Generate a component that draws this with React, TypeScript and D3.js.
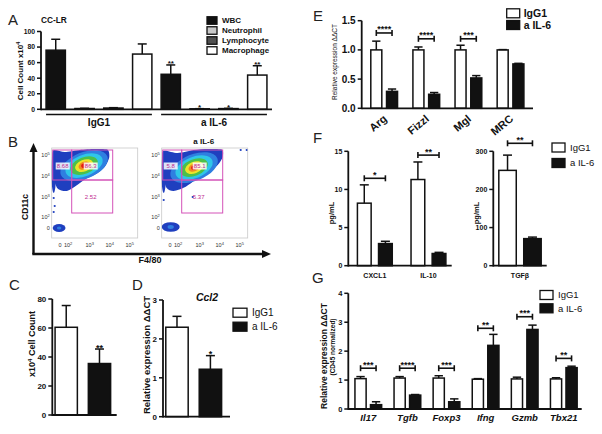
import React from "react";
import * as d3 from "d3";

const FONT = "'Liberation Sans', Arial, Helvetica, sans-serif";
const BLACK = "#111111";
const WHITE = "#ffffff";

// ---------------- Panel A ----------------
const aGroups = ["IgG1", "a IL-6"];
const aCells = ["WBC", "Neutrophil", "Lymphocyte", "Macrophage"];
const aCellFills = ["#111111", "#c8c8c8", "#505050", "#ffffff"];
const aIgG1Means = [76, 1.0, 1.6, 71];
const aIgG1Errs = [14, 0.3, 0.5, 13];
const aAIL6Means = [45, 0.6, 0.9, 44];
const aAIL6Errs = [12, 0.2, 0.3, 12];
const aAIL6Stars = ["**", "*", "*", "**"];
const aTicks = [0, 20, 40, 60, 80, 100];

// ---------------- Panel C ----------------
const cMeans = [60.5, 35.5];
const cErrs = [15, 10];
const cStars = ["", "**"];
const cTicks = [0, 20, 40, 60, 80];

// ---------------- Panel D ----------------
const dMeans = [2.3, 1.22];
const dErrs = [0.28, 0.35];
const dStars = ["", "*"];
const dTicks = [0, 1, 2, 3];

// ---------------- Panel E ----------------
const eGenes = ["Arg", "Fizzl", "Mgl", "MRC"];
const eIgG1Means = [1, 1, 1, 1];
const eIgG1Errs = [0.15, 0.05, 0.08, 0.005];
const eAIL6Means = [0.29, 0.24, 0.52, 0.76];
const eAIL6Errs = [0.04, 0.03, 0.04, 0.01];
const eSig = ["****", "****", "***", ""];
const eSigY = [1.29, 1.19, 1.19, 0];
const eTicks = [0, 0.5, 1, 1.5];

// ---------------- Panel F ----------------
const fCyto = ["CXCL1", "IL-10"];
const fIgG1Means = [8.2, 11.3];
const fIgG1Errs = [2.4, 2.3];
const fAIL6Means = [2.9, 1.6];
const fAIL6Errs = [0.3, 0.15];
const fSig = ["*", "**"];
const fSigY = [11.46, 14.5];
const fTicks = [0, 5, 10, 15];
const fTgf = ["TGFβ"];
const fTgfIgG1Means = [250];
const fTgfIgG1Errs = [40];
const fTgfAIL6Means = [71];
const fTgfAIL6Errs = [4];
const fTgfSig = ["**"];
const fTgfSigY = [321];
const fTgfTicks = [0, 100, 200, 300];

// ---------------- Panel G ----------------
const gGenes = ["Il17", "Tgfb", "Foxp3", "Ifng", "Gzmb", "Tbx21"];
const gIgG1Means = [1.05, 1.07, 1.07, 1.03, 1.04, 1.04];
const gIgG1Errs = [0.07, 0.05, 0.08, 0.02, 0.06, 0.04];
const gAIL6Means = [0.15, 0.48, 0.25, 2.2, 2.75, 1.43];
const gAIL6Errs = [0.1, 0.02, 0.1, 0.38, 0.15, 0.05];
const gSig = ["***", "****", "***", "**", "***", "**"];
const gSigY = [1.41, 1.41, 1.41, 2.79, 3.19, 1.75];
const gTicks = [0, 1, 2, 3, 4];

// ---------------- Panel B (flow) ----------------
const flowXTicks = [
  { v: 0.42, base: "0", exp: "" },
  { v: 0.82, base: "10", exp: "2" },
  { v: 1.9, base: "10", exp: "3" },
  { v: 2.9, base: "10", exp: "4" },
  { v: 3.9, base: "10", exp: "5" },
];
const flowYTicks = [
  { v: 0.5, base: "0", exp: "" },
  { v: 1.05, base: "10", exp: "2" },
  { v: 2.05, base: "10", exp: "3" },
  { v: 3.1, base: "10", exp: "4" },
  { v: 4.15, base: "10", exp: "5" },
];
const flowGates = [
  { x0: 0.05, x1: 1.0, y0: 2.9, y1: 4.4 },
  { x0: 1.0, x1: 3.05, y0: 2.9, y1: 4.4 },
  { x0: 1.0, x1: 3.05, y0: 1.25, y1: 2.9 },
];
const flowLevelColors = ["#2f7fe0", "#2fc6e8", "#4cc04a", "#ece42a", "#f08a22", "#e31a12"];
const flowLevelRx = [1.25, 0.98, 0.72, 0.47, 0.29, 0.15];
const flowLevelRy = [0.66, 0.53, 0.41, 0.29, 0.19, 0.11];
const flowLeftOutline: [number, number][] = [
  [0.07, 4.38], [0.65, 4.3], [1.4, 4.4], [2.15, 4.45], [2.78, 4.42], [2.88, 4.05],
  [2.68, 3.6], [2.26, 3.22], [1.7, 2.95], [1.2, 2.6], [0.75, 2.35], [0.32, 2.45],
  [0.12, 2.9], [0.07, 3.65],
];
const flowRightOutline: [number, number][] = [
  [0.07, 4.35], [0.8, 4.25], [1.6, 4.4], [2.3, 4.45], [3.0, 4.42], [3.05, 4.05],
  [2.8, 3.65], [2.35, 3.28], [1.75, 2.95], [1.18, 2.55], [0.6, 2.35], [0.25, 2.5],
  [0.1, 3.0], [0.07, 3.7],
];
const flowLeftCenter: [number, number] = [1.62, 3.62];
const flowRightCenter: [number, number] = [1.62, 3.52];
const flowLeftLow = [0.37, 0.5, 0.32, 0.2];
const flowRightLow = [0.45, 0.55, 0.45, 0.24];
const flowLeftLabels = ["8.68", "86.3", "2.52"];
const flowRightLabels = ["5.8", "85.1", "5.37"];
const flowLeftLabelPos: [number, number][] = [[0.55, 3.6], [1.95, 3.6], [1.95, 2.05]];
const flowRightLabelPos: [number, number][] = [[0.45, 3.6], [1.9, 3.6], [1.85, 2.05]];
const flowLeftDots: [number, number][] = [[0.1, 2.0], [0.15, 1.6], [0.1, 1.3]];
const flowRightDots: [number, number][] = [[1.55, 2.05], [3.95, 4.4], [4.25, 4.4], [0.1, 1.9]];

interface Ser { name: string; means: number[]; errs: number[]; fill: string; }

interface BarProps {
  cats: string[];
  series: Ser[];
  axisX: number; axisEnd: number; yBottom: number; yTop: number; yMax: number;
  ticks: number[]; fmt?: (v: number) => string; tickFs: number;
  band: [number, number]; pInner: number; pOuter: number; innerPad: number;
  stars?: string[][]; starFs?: number;
  sig?: string[]; sigY?: number[];
  labelMode?: "none" | "plain" | "italic" | "rotated"; labelY?: number; labelFs?: number;
}

function BarChart(p: BarProps) {
  const y = d3.scaleLinear().domain([0, p.yMax]).range([p.yBottom, p.yTop]);
  const x0 = d3.scaleBand<string>().domain(p.cats).range(p.band).paddingInner(p.pInner).paddingOuter(p.pOuter);
  const x1 = d3.scaleBand<string>().domain(p.series.map((s) => s.name)).range([0, x0.bandwidth()]).paddingInner(p.innerPad);
  const bw = x1.bandwidth();
  const capW = Math.min(bw * 0.75, 9);
  const fmt = p.fmt || ((v: number) => String(v));
  const sw = 1.5;
  const center = (c: string, s: string) => (x0(c) as number) + (x1(s) as number) + bw / 2;
  return (
    <g fontFamily={FONT}>
      {p.cats.map((c, ci) =>
        p.series.map((s, si) => {
          const bx = (x0(c) as number) + (x1(s.name) as number);
          const top = y(s.means[ci]);
          const et = y(s.means[ci] + s.errs[ci]);
          const cx = bx + bw / 2;
          const star = p.stars ? p.stars[si][ci] : "";
          return (
            <g key={`${ci}-${si}`}>
              <rect x={bx} y={top} width={bw} height={p.yBottom - top} fill={s.fill} stroke={BLACK} strokeWidth={sw} />
              {s.errs[ci] > 0 && <line x1={cx} x2={cx} y1={top} y2={et} stroke={BLACK} strokeWidth={sw} />}
              {s.errs[ci] > 0 && <line x1={cx - capW / 2} x2={cx + capW / 2} y1={et} y2={et} stroke={BLACK} strokeWidth={sw} />}
              {star && (
                <text x={cx} y={et + 1.5} textAnchor="middle" fontSize={p.starFs || 9} fontWeight="bold" fill={BLACK}>{star}</text>
              )}
            </g>
          );
        })
      )}
      {p.sig && p.cats.map((c, ci) => {
        if (!p.sig![ci]) return null;
        const ya = y(p.sigY![ci]);
        const xa = center(c, p.series[0].name);
        const xb = center(c, p.series[1].name);
        return (
          <g key={`sig${ci}`} stroke={BLACK} strokeWidth={1.6}>
            <line x1={xa} x2={xb} y1={ya} y2={ya} />
            <line x1={xa} x2={xa} y1={ya - 3} y2={ya + 3} />
            <line x1={xb} x2={xb} y1={ya - 3} y2={ya + 3} />
            <text x={(xa + xb) / 2} y={ya - 0.5} textAnchor="middle" fontSize={9} fontWeight="bold" fill={BLACK} stroke="none">{p.sig![ci]}</text>
          </g>
        );
      })}
      <line x1={p.axisX} x2={p.axisX} y1={p.yBottom + 0.9} y2={p.yTop} stroke={BLACK} strokeWidth={1.8} />
      <line x1={p.axisX} x2={p.axisEnd} y1={p.yBottom} y2={p.yBottom} stroke={BLACK} strokeWidth={1.8} />
      {p.ticks.map((t) => (
        <g key={t}>
          <line x1={p.axisX - 4} x2={p.axisX} y1={y(t)} y2={y(t)} stroke={BLACK} strokeWidth={1.5} />
          <text x={p.axisX - 6} y={y(t)} dy="0.35em" textAnchor="end" fontSize={p.tickFs} fontWeight="bold" fill={BLACK}>{fmt(t)}</text>
        </g>
      ))}
      {p.labelMode && p.labelMode !== "none" && p.cats.map((c) => {
        const cx = (x0(c) as number) + x0.bandwidth() / 2;
        if (p.labelMode === "rotated") {
          return (
            <text key={c} transform={`translate(${cx + 3.5},${p.labelY}) rotate(-40)`} textAnchor="end" fontSize={p.labelFs} fontWeight="bold" fill={BLACK}>{c}</text>
          );
        }
        return (
          <text key={c} x={cx} y={p.labelY} textAnchor="middle" fontSize={p.labelFs} fontWeight="bold" fontStyle={p.labelMode === "italic" ? "italic" : "normal"} fill={BLACK}>{c}</text>
        );
      })}
    </g>
  );
}

function Legend(props: { x: number; y0: number; dy: number; names: string[]; fills: string[]; fs: number; bold: boolean; w: number; h: number; gap: number }) {
  const { x, y0, dy, names, fills, fs, bold, w, h, gap } = props;
  return (
    <g fontFamily={FONT}>
      {names.map((n, i) => (
        <g key={n}>
          <rect x={x} y={y0 + i * dy - h / 2} width={w} height={h} fill={fills[i]} stroke={BLACK} strokeWidth={1.3} />
          <text x={x + w + gap} y={y0 + i * dy} dy="0.35em" fontSize={fs} fontWeight={bold ? "bold" : "normal"} fill={BLACK}>{n}</text>
        </g>
      ))}
    </g>
  );
}

interface FlowProps {
  left: number; id: string;
  outline: [number, number][]; center: [number, number]; low: number[];
  labels: string[]; labelPos: [number, number][]; dots: [number, number][]; title?: string;
}

const FLOW_XMAX = 4.3;
const FLOW_YMAX = 4.5;
const FLOW_BOTTOM = 238;
const FLOW_UNIT = 20;

function FlowPlot(p: FlowProps) {
  const x = d3.scaleLinear().domain([0, FLOW_XMAX]).range([p.left, p.left + FLOW_XMAX * FLOW_UNIT]);
  const y = d3.scaleLinear().domain([0, FLOW_YMAX]).range([FLOW_BOTTOM, FLOW_BOTTOM - FLOW_YMAX * FLOW_UNIT]);
  const line = d3.line<[number, number]>().x((d) => x(d[0])).y((d) => y(d[1])).curve(d3.curveCardinalClosed.tension(0.2));
  const cx = x(p.center[0]);
  const cy = y(p.center[1]);
  const ux = (v: number) => x(v) - x(0);
  const uy = (v: number) => y(0) - y(v);
  return (
    <g fontFamily={FONT}>
      <defs>
        <clipPath id={p.id}>
          <rect x={x(0)} y={y(FLOW_YMAX)} width={ux(FLOW_XMAX)} height={uy(FLOW_YMAX)} />
        </clipPath>
      </defs>
      <rect x={x(0)} y={y(FLOW_YMAX)} width={ux(FLOW_XMAX)} height={uy(FLOW_YMAX)} fill={WHITE} stroke="#c8c8c8" strokeWidth={0.8} />
      <g clipPath={`url(#${p.id})`}>
        <path d={line(p.outline) || ""} fill="#1f3fbf" />
        <ellipse cx={x(0.1)} cy={y(3.3)} rx={ux(0.12)} ry={uy(1.05)} fill="#1f3fbf" />
        {flowLevelColors.map((c, i) => (
          <ellipse key={c} cx={cx} cy={cy} rx={ux(flowLevelRx[i])} ry={uy(flowLevelRy[i])} fill={c} transform={`rotate(-22 ${cx} ${cy})`} />
        ))}
        <ellipse cx={x(p.low[0])} cy={y(p.low[1])} rx={ux(p.low[2])} ry={uy(p.low[3])} fill="#1f3fbf" />
        <ellipse cx={x(p.low[0])} cy={y(p.low[1])} rx={ux(p.low[2] * 0.35)} ry={uy(p.low[3] * 0.4)} fill="#2f7fe0" />
        {p.dots.map((d, i) => (
          <circle key={i} cx={x(d[0])} cy={y(d[1])} r={1.1} fill="#1f3fbf" />
        ))}
        {flowGates.map((g, i) => (
          <rect key={i} x={x(g.x0)} y={y(g.y1)} width={x(g.x1) - x(g.x0)} height={y(g.y0) - y(g.y1)} fill="none" stroke="#d452b8" strokeWidth={1} />
        ))}
      </g>
      {p.labels.map((l, i) => {
        const lx = x(p.labelPos[i][0]);
        const ly = y(p.labelPos[i][1]);
        return (
          <g key={l}>
            {i < 2 && <rect x={lx - 7} y={ly - 3.5} width={14} height={7} fill={WHITE} opacity={0.85} />}
            <text x={lx} y={ly} dy="0.35em" textAnchor="middle" fontSize={6} fill="#c02a90">{l}</text>
          </g>
        );
      })}
      {flowXTicks.map((t) => (
        <text key={t.v} x={x(t.v)} y={247} textAnchor="middle" fontSize={5.5} fill="#333">
          {t.base}
          {t.exp && <tspan dy={-2.2} fontSize={4}>{t.exp}</tspan>}
        </text>
      ))}
      {flowYTicks.map((t) => (
        <text key={t.v} x={x(0) - 2} y={y(t.v)} dy="0.35em" textAnchor="end" fontSize={5.5} fill="#333">
          {t.base}
          {t.exp && <tspan dy={-2.2} fontSize={4}>{t.exp}</tspan>}
        </text>
      ))}
      {p.title && (
        <text x={x(2.1)} y={144} textAnchor="middle" fontSize={8} fontWeight="bold" fill={BLACK}>{p.title}</text>
      )}
    </g>
  );
}

const serNames = ["IgG1", "a IL-6"];

export default function App() {
  const aSeries: Ser[] = aCells.map((c, i) => ({
    name: c,
    means: [aIgG1Means[i], aAIL6Means[i]],
    errs: [aIgG1Errs[i], aAIL6Errs[i]],
    fill: aCellFills[i],
  }));
  const aStars = aCells.map((_, i) => ["", aAIL6Stars[i]]);
  const aX0 = d3.scaleBand<string>().domain(aGroups).range([41, 272]).paddingInner(0.08).paddingOuter(0.044);

  const cSeries: Ser[] = serNames.map((n, i) => ({ name: n, means: [cMeans[i]], errs: [cErrs[i]], fill: i === 0 ? WHITE : BLACK }));
  const dSeries: Ser[] = serNames.map((n, i) => ({ name: n, means: [dMeans[i]], errs: [dErrs[i]], fill: i === 0 ? WHITE : BLACK }));
  const eSeries: Ser[] = [
    { name: serNames[0], means: eIgG1Means, errs: eIgG1Errs, fill: WHITE },
    { name: serNames[1], means: eAIL6Means, errs: eAIL6Errs, fill: BLACK },
  ];
  const fSeries: Ser[] = [
    { name: serNames[0], means: fIgG1Means, errs: fIgG1Errs, fill: WHITE },
    { name: serNames[1], means: fAIL6Means, errs: fAIL6Errs, fill: BLACK },
  ];
  const fTgfSeries: Ser[] = [
    { name: serNames[0], means: fTgfIgG1Means, errs: fTgfIgG1Errs, fill: WHITE },
    { name: serNames[1], means: fTgfAIL6Means, errs: fTgfAIL6Errs, fill: BLACK },
  ];
  const gSeries: Ser[] = [
    { name: serNames[0], means: gIgG1Means, errs: gIgG1Errs, fill: WHITE },
    { name: serNames[1], means: gAIL6Means, errs: gAIL6Errs, fill: BLACK },
  ];

  return (
    <div style={{ position: "fixed", left: 0, top: 0, width: 602, height: 434, background: WHITE }}>
      <svg width={602} height={434} viewBox="0 0 602 434" style={{ display: "block" }} fontFamily={FONT}>
        <rect width={602} height={434} fill={WHITE} />

        {/* Panel letters */}
        <g fontSize={15} fill="#222">
          <text x={8} y={25}>A</text>
          <text x={8} y={147}>B</text>
          <text x={9} y={290}>C</text>
          <text x={132} y={290}>D</text>
          <text x={313} y={21}>E</text>
          <text x={313} y={143}>F</text>
          <text x={312} y={283}>G</text>
        </g>

        {/* Panel A */}
        <text x={41} y={22.5} fontSize={8.3} fontWeight="bold" fill={BLACK}>CC-LR</text>
        <text transform="translate(23,71) rotate(-90)" textAnchor="middle" fontSize={8} fontWeight="bold" fill={BLACK}>
          Cell Count x10<tspan dy={-3} fontSize={5.5}>4</tspan>
        </text>
        <BarChart
          cats={aGroups} series={aSeries}
          axisX={41} axisEnd={272} yBottom={109.3} yTop={31.5} yMax={100}
          ticks={aTicks} tickFs={6.8}
          band={[41, 272]} pInner={0.08} pOuter={0.044} innerPad={0.33}
          stars={aStars} starFs={8}
        />
        {aGroups.map((g) => (
          <g key={g}>
            <line x1={aX0(g) as number} x2={(aX0(g) as number) + aX0.bandwidth()} y1={114.5} y2={114.5} stroke={BLACK} strokeWidth={1.5} />
            <text x={(aX0(g) as number) + aX0.bandwidth() / 2} y={125.5} textAnchor="middle" fontSize={10} fontWeight="bold" fill={BLACK}>{g}</text>
          </g>
        ))}
        <Legend x={207} y0={20.5} dy={10} names={aCells} fills={aCellFills} fs={8} bold={true} w={10} h={7.5} gap={5} />

        {/* Panel B */}
        <FlowPlot left={51.7} id="flowL" outline={flowLeftOutline} center={flowLeftCenter} low={flowLeftLow}
          labels={flowLeftLabels} labelPos={flowLeftLabelPos} dots={flowLeftDots} />
        <FlowPlot left={161.7} id="flowR" outline={flowRightOutline} center={flowRightCenter} low={flowRightLow}
          labels={flowRightLabels} labelPos={flowRightLabelPos} dots={flowRightDots} title="a IL-6" />
        <line x1={33.5} x2={33.5} y1={254} y2={150} stroke={BLACK} strokeWidth={2.4} />
        <path d="M33.5,143 L29.5,152 L37.5,152 Z" fill={BLACK} />
        <line x1={32.3} x2={264} y1={254} y2={254} stroke={BLACK} strokeWidth={2.4} />
        <path d="M271,254 L262,250 L262,258 Z" fill={BLACK} />
        <text transform="translate(28,207) rotate(-90)" textAnchor="middle" fontSize={8.5} fontWeight="bold" fill={BLACK}>CD11c</text>
        <text x={150} y={263} textAnchor="middle" fontSize={9} fontWeight="bold" fill={BLACK}>F4/80</text>

        {/* Panel C */}
        <text transform="translate(35,344) rotate(-90)" textAnchor="middle" fontSize={9} fontWeight="bold" fill={BLACK}>
          x10<tspan dy={-3} fontSize={6}>4</tspan><tspan dy={3}> Cell Count</tspan>
        </text>
        <BarChart
          cats={[""]} series={cSeries}
          axisX={52.3} axisEnd={116.7} yBottom={415} yTop={299} yMax={80}
          ticks={cTicks} tickFs={8}
          band={[52.3, 113.4]} pInner={0} pOuter={0.05} innerPad={0.33}
          stars={[[cStars[0]], [cStars[1]]]} starFs={9}
        />

        {/* Panel D */}
        <text transform="translate(150,355) rotate(-90)" textAnchor="middle" fontSize={9.5} fontWeight="bold" fill={BLACK}>Relative expression ΔΔCT</text>
        <text x={207} y={301} textAnchor="middle" fontSize={10.5} fontWeight="bold" fontStyle="italic" fill={BLACK}>Ccl2</text>
        <BarChart
          cats={[""]} series={dSeries}
          axisX={163} axisEnd={230} yBottom={416.7} yTop={300} yMax={3}
          ticks={dTicks} tickFs={8}
          band={[163, 224.4]} pInner={0} pOuter={0.05} innerPad={0.33}
          stars={[[dStars[0]], [dStars[1]]]} starFs={9}
        />
        <Legend x={233} y0={312.7} dy={14} names={serNames} fills={[WHITE, BLACK]} fs={10} bold={false} w={14} h={9} gap={5} />

        {/* Panel E */}
        <text transform="translate(337,62) rotate(-90)" textAnchor="middle" fontSize={6.5} fill={BLACK}>Relative expression ΔΔCT</text>
        <BarChart
          cats={eGenes} series={eSeries}
          axisX={361.7} axisEnd={533} yBottom={108.3} yTop={20.7} yMax={1.5}
          ticks={eTicks} fmt={(v) => v.toFixed(1)} tickFs={10}
          band={[361.7, 533]} pInner={0.365} pOuter={0.216} innerPad={0.3}
          sig={eSig} sigY={eSigY}
          labelMode="rotated" labelY={120} labelFs={11}
        />
        <Legend x={506.7} y0={13.3} dy={11.7} names={serNames} fills={[WHITE, BLACK]} fs={10.5} bold={true} w={13} h={9} gap={4} />

        {/* Panel F */}
        <text transform="translate(334,213) rotate(-90)" textAnchor="middle" fontSize={7.5} fontWeight="bold" fill={BLACK}>pg/mL</text>
        <BarChart
          cats={fCyto} series={fSeries}
          axisX={348.3} axisEnd={451.7} yBottom={265.7} yTop={151.3} yMax={15}
          ticks={fTicks} tickFs={7}
          band={[348.3, 455]} pInner={0.35} pOuter={0.17} innerPad={0.35}
          sig={fSig} sigY={fSigY}
          labelMode="plain" labelY={278} labelFs={7}
        />
        <text transform="translate(479,213) rotate(-90)" textAnchor="middle" fontSize={7.5} fontWeight="bold" fill={BLACK}>pg/mL</text>
        <BarChart
          cats={fTgf} series={fTgfSeries}
          axisX={493.3} axisEnd={546.7} yBottom={265.7} yTop={151.3} yMax={300}
          ticks={fTgfTicks} tickFs={7}
          band={[493.3, 546.7]} pInner={0} pOuter={0.13} innerPad={0.3}
          sig={fTgfSig} sigY={fTgfSigY}
          labelMode="plain" labelY={278} labelFs={7}
        />
        <Legend x={552} y0={147.5} dy={15.5} names={serNames} fills={[WHITE, BLACK]} fs={9.5} bold={false} w={13} h={9} gap={5} />

        {/* Panel G */}
        <text transform="translate(327,356) rotate(-90)" textAnchor="middle" fontSize={8.5} fontWeight="bold" fill={BLACK}>Relative expression ΔΔCT</text>
        <text transform="translate(335,347) rotate(-90)" textAnchor="middle" fontSize={6.5} fontWeight="bold" fill={BLACK}>(CD45 normalized)</text>
        <BarChart
          cats={gGenes} series={gSeries}
          axisX={348.3} axisEnd={581.7} yBottom={409} yTop={293.3} yMax={4}
          ticks={gTicks} tickFs={7.5}
          band={[348.3, 583.8]} pInner={0.317} pOuter={0.17} innerPad={0.28}
          sig={gSig} sigY={gSigY}
          labelMode="italic" labelY={421} labelFs={9.5}
        />
        <Legend x={540} y0={295} dy={13.3} names={serNames} fills={[WHITE, BLACK]} fs={9.5} bold={false} w={13} h={9} gap={5} />
      </svg>
    </div>
  );
}
